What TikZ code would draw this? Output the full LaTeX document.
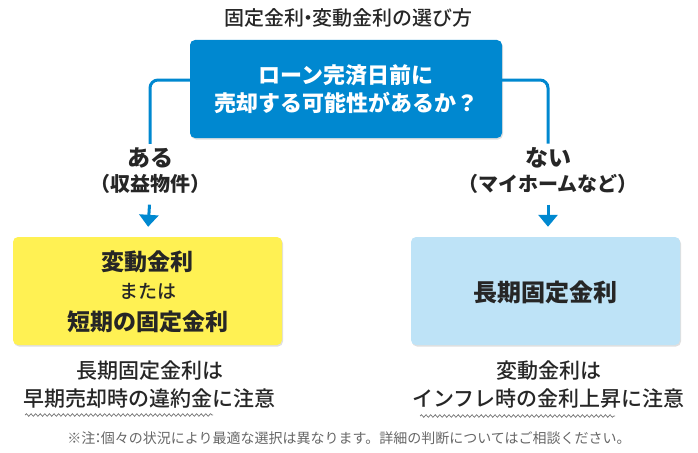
\documentclass[tikz,border=0pt]{standalone}
\usepackage{fontspec}
\setmainfont{Noto Sans CJK JP}
\newfontfamily\jpmed{Noto Sans CJK JP Medium}
\newfontfamily\jpblack{Noto Sans CJK JP Black}
\usepackage{xcolor}
\usetikzlibrary{arrows.meta, shadows, decorations.pathmorphing, calc}
\definecolor{qblue}{HTML}{0088D0}
\definecolor{ayellow}{HTML}{FFF153}
\definecolor{nblue}{HTML}{BEE3F7}
\definecolor{inkgray}{HTML}{262626}
\definecolor{notegray}{HTML}{666666}
\tikzset{
    question/.style={
        rectangle,
        rounded corners=5pt,
        fill=qblue,
        text=white,
        align=center,
        minimum width=312pt,
        minimum height=98pt,
        font=\bfseries\fontsize{22pt}{28pt}\selectfont,
        drop shadow={shadow xshift=1pt, shadow yshift=-1.5pt, opacity=0.25},
    },
    choice/.style={
        rectangle,
        rounded corners=5pt,
        minimum width=269pt,
        minimum height=108pt,
        drop shadow={shadow xshift=1pt, shadow yshift=-1.5pt, opacity=0.25},
    },
    answer/.style={
        text=inkgray,
        font=\jpblack\fontsize{23pt}{23pt}\selectfont,
    },
    aside/.style={
        text=inkgray,
        font=\jpblack\fontsize{20pt}{20pt}\selectfont,
    },
    remark/.style={
        text=inkgray,
        font=\jpmed\fontsize{21pt}{21pt}\selectfont,
    },
    conn/.style={
        draw=qblue,
        line width=3pt,
        rounded corners=8pt,
    },
    down/.style={
        draw=qblue,
        line width=3pt,
        -{Triangle[width=19pt, length=12pt]},
    },
    wave/.style={
        draw=gray!90!black,
        line width=0.7pt,
        decorate,
        decoration={snake, amplitude=1.3pt, segment length=4.6pt},
    },
}

\begin{document}
\begin{tikzpicture}[x=1pt, y=-1pt]
      \useasboundingbox (0,0) rectangle (698,452);

      \node[text=inkgray, font=\jpmed\fontsize{20pt}{20pt}\selectfont] (head) at (348,18) {固定金利\hspace{-0.3em}・\hspace{-0.3em}変動金利の選び方};

      \node[question] (ques) at (346,89) {ローン完済日前に\\売却する可能性があるか？};

      \node[answer] (aru) at (150,157.5) {ある};
      \node[aside] (aruex) at (150,183.5) {（収益物件）};

      \node[answer] (nai) at (548,157.5) {ない};
      \node[aside] (naiex) at (548,183.5) {（マイホームなど）};

      \node[choice, fill=ayellow] (float) at (147.5,291) {};
      \node[answer] (float1) at (147.5,262) {変動金利};
      \node[remark, font=\jpmed\fontsize{19pt}{19pt}\selectfont] (float2) at (147.5,291) {または};
      \node[answer] (float3) at (147.5,321.5) {短期の固定金利};

      \node[choice, fill=nblue] (fixed) at (545.5,291) {};
      \node[answer, font=\jpblack\fontsize{24pt}{24pt}\selectfont] (fixed1) at (545.5,292) {長期固定金利};

      \node[remark] (lnote1) at (149.5,370.5) {長期固定金利は};
      \node[remark] (lnote2) at (149.5,399) {早期売却時の違約金に注意};

      \node[remark] (rnote1) at (548.5,370.5) {変動金利は};
      \node[remark] (rnote2) at (548.5,399) {インフレ時の金利上昇に注意};

      \node[text=notegray, font=\fontsize{14pt}{14pt}\selectfont] (foot) at (349,438) {※注\hspace{-0.3em}：\hspace{-0.3em}個々の状況により最適な選択は異なります。詳細の判断についてはご相談ください。};

      \draw[conn] ([yshift=9pt]ques.west) -| (aru.north);
      \draw[conn] ([yshift=9pt]ques.east) -| (nai.north);
      \draw[down, shorten <=8pt, shorten >=10pt] (aruex.south) -- (float.north);
      \draw[down, shorten <=8pt, shorten >=10pt] (naiex.south) -- (float.north -| naiex.south);

      \draw[wave] (25,415) -- (213,415);
      \draw[wave] (420,416) -- (615,416);

    \end{tikzpicture}
\end{document}
